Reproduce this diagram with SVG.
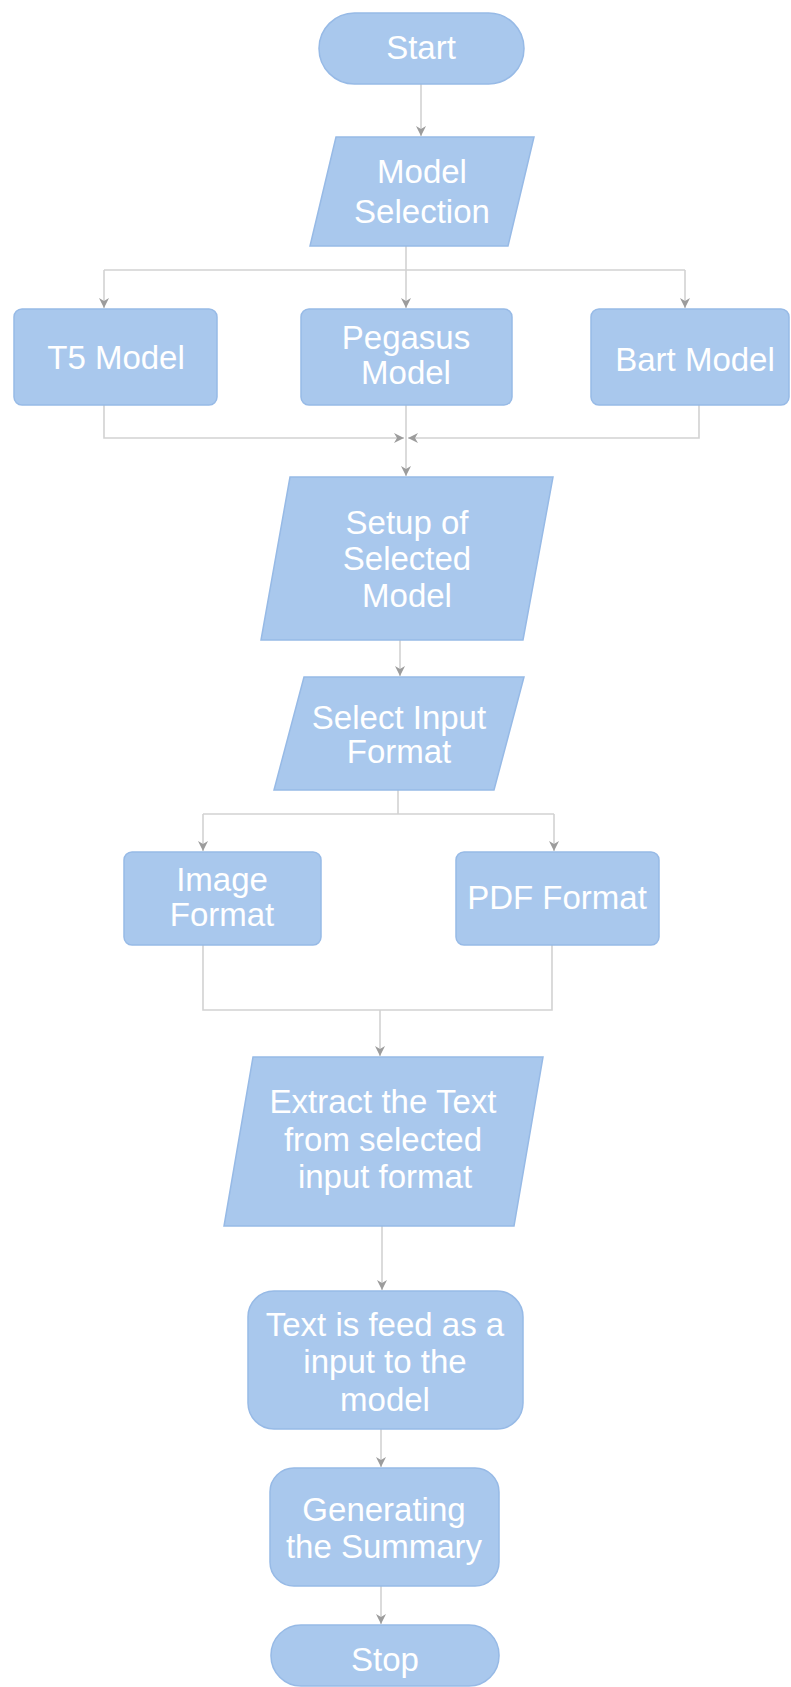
<svg xmlns="http://www.w3.org/2000/svg" width="791" height="1687" viewBox="0 0 791 1687">
<style>
.n{fill:#a9c8ed;stroke:#97bae6;stroke-width:1.5}
.t{fill:#ffffff;font-family:"Liberation Sans",Arial,sans-serif;font-size:33px;text-anchor:middle}
.c{fill:none;stroke:#d2d2d2;stroke-width:1.6}
</style>
<defs>
<marker id="ah" viewBox="0 0 10 10" refX="10" refY="5" markerWidth="10" markerHeight="10" markerUnits="userSpaceOnUse" orient="auto">
<path d="M0,0 L10,5 L0,10 L3,5 z" fill="#9c9c9c"/>
</marker>
</defs>
<rect width="791" height="1687" fill="#ffffff"/>
<g id="connectors">
<path class="c" d="M421,84 V136" marker-end="url(#ah)"/>
<path class="c" d="M406,246 V270"/>
<path class="c" d="M104,270 H685"/>
<path class="c" d="M104,270 V308" marker-end="url(#ah)"/>
<path class="c" d="M406,270 V308" marker-end="url(#ah)"/>
<path class="c" d="M685,270 V308" marker-end="url(#ah)"/>
<path class="c" d="M104,405 V438 H404" marker-end="url(#ah)"/>
<path class="c" d="M699,405 V438 H408" marker-end="url(#ah)"/>
<path class="c" d="M406,405 V476" marker-end="url(#ah)"/>
<path class="c" d="M400,640 V676" marker-end="url(#ah)"/>
<path class="c" d="M398,790 V814"/>
<path class="c" d="M203,814 H554"/>
<path class="c" d="M203,814 V851" marker-end="url(#ah)"/>
<path class="c" d="M554,814 V851" marker-end="url(#ah)"/>
<path class="c" d="M203,945 V1010 H552 V945"/>
<path class="c" d="M380,1010 V1056" marker-end="url(#ah)"/>
<path class="c" d="M382,1226 V1290" marker-end="url(#ah)"/>
<path class="c" d="M381,1429 V1467" marker-end="url(#ah)"/>
<path class="c" d="M381,1586 V1624" marker-end="url(#ah)"/>
</g>
<g id="start">
<rect class="n" x="319" y="13" width="205" height="71" rx="35.5"/>
<text class="t" x="421" y="59">Start</text>
</g>
<g id="model-selection">
<polygon class="n" points="336,137 534,137 508,246 310,246"/>
<text class="t" x="422" y="183">Model</text>
<text class="t" x="422" y="223">Selection</text>
</g>
<g id="t5-model">
<rect class="n" x="14" y="309" width="203" height="96" rx="8"/>
<text class="t" x="116" y="369">T5 Model</text>
</g>
<g id="pegasus-model">
<rect class="n" x="301" y="309" width="211" height="96" rx="8"/>
<text class="t" x="406" y="349">Pegasus</text>
<text class="t" x="406" y="384">Model</text>
</g>
<g id="bart-model">
<rect class="n" x="591" y="309" width="198" height="96" rx="8"/>
<text class="t" x="695" y="371">Bart Model</text>
</g>
<g id="setup">
<polygon class="n" points="290,477 553,477 523,640 261,640"/>
<text class="t" x="407" y="534">Setup of</text>
<text class="t" x="407" y="570">Selected</text>
<text class="t" x="407" y="607">Model</text>
</g>
<g id="select-input">
<polygon class="n" points="304,677 524,677 494,790 274,790"/>
<text class="t" x="399" y="729">Select Input</text>
<text class="t" x="399" y="763">Format</text>
</g>
<g id="image-format">
<rect class="n" x="124" y="852" width="197" height="93" rx="8"/>
<text class="t" x="222" y="891">Image</text>
<text class="t" x="222" y="926">Format</text>
</g>
<g id="pdf-format">
<rect class="n" x="456" y="852" width="203" height="93" rx="8"/>
<text class="t" x="557" y="909">PDF Format</text>
</g>
<g id="extract">
<polygon class="n" points="253,1057 543,1057 514,1226 224,1226"/>
<text class="t" x="383" y="1113">Extract the Text</text>
<text class="t" x="383" y="1151">from selected</text>
<text class="t" x="385" y="1188">input format</text>
</g>
<g id="feed">
<rect class="n" x="248" y="1291" width="275" height="138" rx="26"/>
<text class="t" x="385" y="1336">Text is feed as a</text>
<text class="t" x="385" y="1373">input to the</text>
<text class="t" x="385" y="1411">model</text>
</g>
<g id="generating">
<rect class="n" x="270" y="1468" width="229" height="118" rx="24"/>
<text class="t" x="384" y="1521">Generating</text>
<text class="t" x="384" y="1558">the Summary</text>
</g>
<g id="stop">
<rect class="n" x="271" y="1625" width="228" height="61" rx="30"/>
<text class="t" x="385" y="1671">Stop</text>
</g>
</svg>
